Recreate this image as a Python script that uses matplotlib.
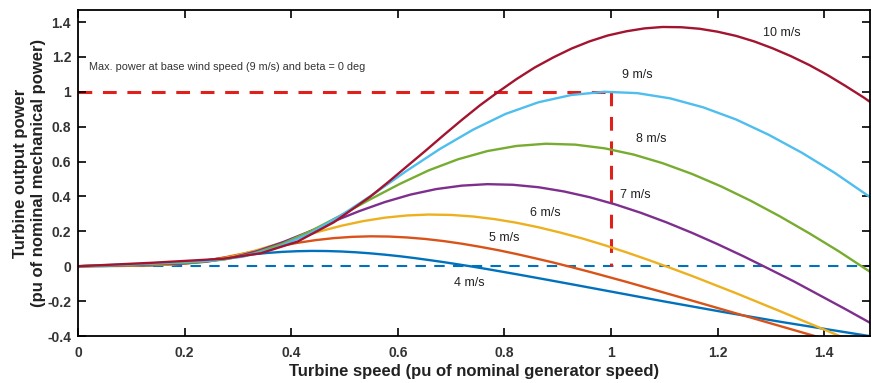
import matplotlib
matplotlib.use("Agg")
import matplotlib.pyplot as plt

plt.rcParams['font.family'] = ['Liberation Sans', 'DejaVu Sans']

# ---- data ----
x4 = [0, 0.055, 0.110, 0.137, 0.165, 0.192, 0.219, 0.247, 0.274, 0.302, 0.329, 0.357, 0.384, 0.412,
      0.439, 0.466, 0.494, 0.521, 0.549, 0.576, 0.604, 0.631, 0.658, 0.686, 0.713, 0.741, 0.768,
      0.823, 0.878, 0.933, 0.988, 1.097, 1.207, 1.317, 1.481, 1.536]
y4 = [0, 0.0012, 0.0028, 0.0048, 0.0091, 0.0161, 0.0256, 0.0366, 0.0481, 0.0590, 0.0687, 0.0766,
      0.0825, 0.0862, 0.0878, 0.0871, 0.0845, 0.0800, 0.0738, 0.0662, 0.0572, 0.0470, 0.0357,
      0.0236, 0.0108, -0.0027, -0.0165, -0.0459, -0.0763, -0.1072, -0.1384, -0.2003, -0.2605,
      -0.3181, -0.3985, -0.4237]

x5 = [0, 0.069, 0.137, 0.171, 0.206, 0.240, 0.274, 0.309, 0.343, 0.377, 0.412, 0.446, 0.480, 0.514,
      0.549, 0.583, 0.617, 0.652, 0.686, 0.720, 0.754, 0.789, 0.823, 0.857, 0.892, 0.926, 0.960,
      1.029, 1.097, 1.166, 1.235, 1.372, 1.509]
y5 = [0, 0.0024, 0.0054, 0.0093, 0.0177, 0.0315, 0.0501, 0.0715, 0.0939, 0.1153, 0.1342, 0.1497,
      0.1612, 0.1684, 0.1715, 0.1702, 0.1650, 0.1562, 0.1442, 0.1292, 0.1116, 0.0917, 0.0698,
      0.0461, 0.0211, -0.0053, -0.0322, -0.0897, -0.1490, -0.2094, -0.2704, -0.3913, -0.5087]

x6 = [0, 0.082, 0.165, 0.206, 0.247, 0.288, 0.329, 0.370, 0.412, 0.453, 0.494, 0.535, 0.576, 0.617,
      0.658, 0.700, 0.741, 0.782, 0.823, 0.864, 0.905, 0.947, 0.988, 1.029, 1.070, 1.111, 1.152,
      1.235, 1.317, 1.399, 1.481]
y6 = [0, 0.0042, 0.0093, 0.0161, 0.0305, 0.0544, 0.0865, 0.1236, 0.1623, 0.1992, 0.2319, 0.2587,
      0.2785, 0.2910, 0.2963, 0.2941, 0.2852, 0.2699, 0.2492, 0.2233, 0.1929, 0.1585, 0.1206,
      0.0797, 0.0364, -0.0092, -0.0556, -0.1550, -0.2575, -0.3619, -0.4673]

x7 = [0, 0.096, 0.192, 0.240, 0.288, 0.336, 0.384, 0.432, 0.480, 0.528, 0.576, 0.624, 0.672, 0.720,
      0.768, 0.816, 0.864, 0.912, 0.960, 1.008, 1.056, 1.104, 1.152, 1.200, 1.248, 1.296, 1.344,
      1.440, 1.536]
y7 = [0, 0.0067, 0.0148, 0.0255, 0.0485, 0.0864, 0.1373, 0.1963, 0.2577, 0.3163, 0.3682, 0.4108,
      0.4423, 0.4620, 0.4705, 0.4670, 0.4529, 0.4286, 0.3957, 0.3545, 0.3063, 0.2517, 0.1915,
      0.1266, 0.0579, -0.0146, -0.0882, -0.2461, -0.4089]

x8 = [0, 0.110, 0.219, 0.274, 0.329, 0.384, 0.439, 0.494, 0.549, 0.604, 0.658, 0.713, 0.768, 0.823,
      0.878, 0.933, 0.988, 1.043, 1.097, 1.152, 1.207, 1.262, 1.317, 1.372, 1.427, 1.481, 1.536]
y8 = [0, 0.0100, 0.0221, 0.0381, 0.0724, 0.1290, 0.2050, 0.2930, 0.3847, 0.4722, 0.5496, 0.6131,
      0.6602, 0.6897, 0.7023, 0.6971, 0.6760, 0.6398, 0.5907, 0.5292, 0.4572, 0.3757, 0.2858,
      0.1889, 0.0864, -0.0218, -0.1317]

x9 = [0, 0.123, 0.247, 0.309, 0.370, 0.432, 0.494, 0.556, 0.617, 0.679, 0.741, 0.802, 0.864, 0.926,
      0.988, 1.049, 1.111, 1.173, 1.235, 1.296, 1.358, 1.420, 1.481, 1.543]
y9 = [0, 0.0142, 0.0314, 0.0543, 0.1031, 0.1837, 0.2919, 0.4172, 0.5477, 0.6723, 0.7825, 0.873,
      0.940, 0.982, 1.0, 0.9925, 0.9625, 0.911, 0.841, 0.7535, 0.651, 0.535, 0.407, 0.269]

x10 = [0, 0.137, 0.274, 0.343, 0.412, 0.480, 0.549, 0.583, 0.617, 0.652, 0.686, 0.720, 0.754, 0.789,
       0.823, 0.857, 0.892, 0.926, 0.960, 0.994, 1.029, 1.063, 1.097, 1.132, 1.166, 1.200, 1.235,
       1.269, 1.303, 1.337, 1.372, 1.406, 1.440, 1.475, 1.509]
y10 = [0, 0.0195, 0.0431, 0.0745, 0.1414, 0.2520, 0.4004, 0.4846, 0.5723, 0.6620, 0.7513, 0.8385,
       0.9222, 1.0008, 1.0734, 1.1394, 1.1975, 1.2479, 1.2894, 1.3229, 1.3470, 1.3636, 1.3717,
       1.3702, 1.3615, 1.3446, 1.3203, 1.2886, 1.2497, 1.2052, 1.1536, 1.0966, 1.0336, 0.9658,
       0.8930]

speed_labels = ['4 m/s', '5 m/s', '6 m/s', '7 m/s', '8 m/s', '9 m/s', '10 m/s']
label_x = [0.735, 0.799, 0.877, 1.046, 1.076, 1.050, 1.320]
label_y = [-0.097, 0.160, 0.304, 0.407, 0.728, 1.095, 1.335]

xticks = [0, 0.2, 0.4, 0.6, 0.8, 1, 1.2, 1.4]
xtick_labels = ['0', '0.2', '0.4', '0.6', '0.8', '1', '1.2', '1.4']
yticks = [-0.4, -0.2, 0, 0.2, 0.4, 0.6, 0.8, 1, 1.2, 1.4]
ytick_labels = ['-0.4', '-0.2', '0', '0.2', '0.4', '0.6', '0.8', '1', '1.2', '1.4']

colors = ['#0072BD', '#D95319', '#EDB120', '#7E2F8E', '#77AC30', '#4DBEEE', '#A2142F']

# ---- figure ----
fig = plt.figure(figsize=(8.71, 3.83), dpi=100)
ax = fig.add_axes([78 / 871, 47 / 383, 792 / 871, 326 / 383])

ax.axhline(0, color='#0072BD', lw=1.5, ls=(0, (5, 4)), zorder=1)
ax.plot([0, 1], [1, 1], color='#E0201B', lw=2.2, ls=(0, (4.5, 3.5)), zorder=1)
ax.plot([1, 1], [1, 0], color='#E0201B', lw=2.2, ls=(0, (4.5, 3.5)), zorder=1)

xs = [x4, x5, x6, x7, x8, x9, x10]
ys = [y4, y5, y6, y7, y8, y9, y10]
for xv, yv, c in zip(xs, ys, colors):
    ax.plot(xv, yv, color=c, lw=1.7, zorder=2, solid_capstyle='round', solid_joinstyle='round')

for t, lx, ly in zip(speed_labels, label_x, label_y):
    ax.text(lx, ly, t, fontsize=9, ha='center', va='center', color='#222222')

ax.text(0.021, 1.14, 'Max. power at base wind speed (9 m/s) and beta = 0 deg',
        fontsize=7.8, ha='left', va='center', color='#333333')

ax.set_xlim(0, 1.486)
ax.set_ylim(-0.4, 1.469)
ax.set_xticks(xticks)
ax.set_xticklabels(xtick_labels, fontsize=10, fontweight='bold', color='#333333')
ax.set_yticks(yticks)
ax.set_yticklabels(ytick_labels, fontsize=10, fontweight='bold', color='#333333')
ax.tick_params(direction='in', length=6, width=1.2, top=True, right=True, pad=5)
ax.tick_params(axis='x', pad=7)
for s in ax.spines.values():
    s.set_linewidth(1.3)

ax.set_xlabel('Turbine speed (pu of nominal generator speed)', fontsize=12,
              fontweight='bold', color='#222222', labelpad=3)
ax.set_ylabel('Turbine output power\n(pu of nominal mechanical power)', fontsize=12,
              fontweight='bold', color='#222222', labelpad=1, linespacing=1.2)

fig.savefig('out.png', dpi=100)
